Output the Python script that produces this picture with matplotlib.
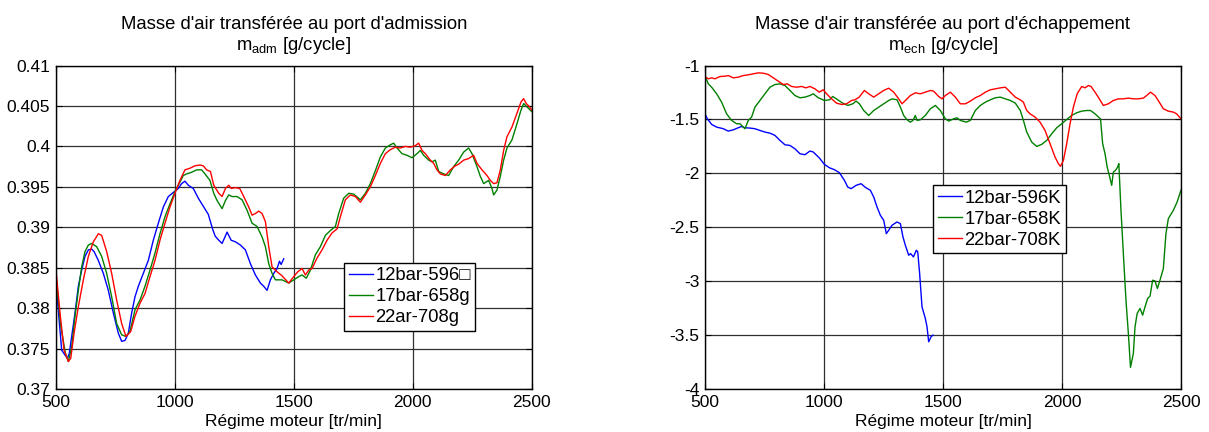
import matplotlib
matplotlib.use("Agg")
import matplotlib.pyplot as plt
from matplotlib.ticker import FuncFormatter

plt.rcParams['font.family'] = ['Liberation Sans', 'DejaVu Sans']
plt.rcParams['mathtext.fontset'] = 'custom'
plt.rcParams['mathtext.rm'] = 'Liberation Sans'
plt.rcParams['axes.unicode_minus'] = False

# --- masse admise, 12 bar ---
rpm_adm_12 = [500, 525, 539, 549, 557, 567, 581, 595, 609, 623,
              637, 651, 661, 679, 700, 721, 742, 763, 777, 791,
              805, 819, 833, 847, 868, 889, 910, 931, 952, 973,
              994, 1015, 1029, 1043, 1057, 1078, 1099, 1120, 1141, 1160,
              1170, 1185, 1199, 1220, 1237, 1255, 1276, 1297, 1318, 1339,
              1360, 1374, 1388, 1402, 1416, 1430, 1440, 1447, 1458]
m_adm_12 = [0.3835, 0.3748, 0.3742, 0.3738, 0.3744, 0.3765, 0.3794, 0.3827, 0.3847, 0.3864,
            0.3872, 0.3873, 0.3870, 0.3859, 0.3843, 0.3822, 0.3794, 0.3769, 0.3759, 0.3760,
            0.3769, 0.3794, 0.3814, 0.3827, 0.3843, 0.3859, 0.3884, 0.3905, 0.3925, 0.3938,
            0.3943, 0.3948, 0.3954, 0.3957, 0.3952, 0.3948, 0.3936, 0.3926, 0.3916, 0.3897,
            0.3889, 0.3884, 0.3880, 0.3894, 0.3884, 0.3882, 0.3878, 0.3872, 0.3855, 0.3841,
            0.3831, 0.3827, 0.3822, 0.3835, 0.3843, 0.3849, 0.3858, 0.3854, 0.3861]

# --- masse admise, 17 bar ---
rpm_adm_17 = [500, 520, 540, 553, 567, 581, 595, 609, 623, 637,
              651, 672, 693, 714, 735, 756, 777, 795, 812, 833,
              854, 875, 896, 917, 938, 959, 980, 1001, 1022, 1036,
              1050, 1071, 1092, 1113, 1127, 1148, 1164, 1178, 1199, 1213,
              1227, 1241, 1262, 1283, 1304, 1325, 1346, 1367, 1381, 1395,
              1409, 1423, 1451, 1479, 1500, 1521, 1535, 1553, 1570, 1591,
              1612, 1633, 1654, 1675, 1689, 1710, 1731, 1752, 1780, 1801,
              1822, 1843, 1864, 1885, 1906, 1920, 1934, 1955, 1976, 1997,
              2018, 2032, 2046, 2067, 2081, 2095, 2109, 2130, 2151, 2172,
              2193, 2214, 2235, 2249, 2270, 2284, 2298, 2319, 2333, 2340,
              2354, 2368, 2382, 2396, 2417, 2438, 2455, 2466, 2480, 2500]
m_adm_17 = [0.3845, 0.3780, 0.3745, 0.3734, 0.3752, 0.3790, 0.3822, 0.3851, 0.3870, 0.3878,
            0.3880, 0.3876, 0.3864, 0.3843, 0.3814, 0.3781, 0.3767, 0.3765, 0.3771, 0.3798,
            0.3810, 0.3827, 0.3847, 0.3868, 0.3892, 0.3913, 0.3929, 0.3944, 0.3956, 0.3964,
            0.3966, 0.3968, 0.3971, 0.3971, 0.3966, 0.3958, 0.3942, 0.3933, 0.3923, 0.3933,
            0.3940, 0.3938, 0.3938, 0.3934, 0.3921, 0.3905, 0.3901, 0.3888, 0.3876, 0.3855,
            0.3843, 0.3835, 0.3835, 0.3831, 0.3835, 0.3839, 0.3841, 0.3837, 0.3847, 0.3866,
            0.3876, 0.3890, 0.3896, 0.3901, 0.3917, 0.3936, 0.3942, 0.3941, 0.3934, 0.3942,
            0.3954, 0.3970, 0.3987, 0.3998, 0.4002, 0.4004, 0.3998, 0.3991, 0.3989, 0.3986,
            0.3991, 0.3995, 0.3989, 0.3983, 0.3981, 0.3983, 0.3969, 0.3966, 0.3964, 0.3975,
            0.3983, 0.3993, 0.3998, 0.3991, 0.3975, 0.3963, 0.3954, 0.3958, 0.3948, 0.3940,
            0.3946, 0.3963, 0.3983, 0.3998, 0.4008, 0.4028, 0.4045, 0.4053, 0.4049, 0.4043]

# --- masse admise, 22 bar ---
rpm_adm_22 = [500, 518, 535, 553, 563, 577, 595, 616, 637, 658,
              679, 693, 714, 735, 756, 777, 795, 815, 833, 854,
              875, 896, 917, 938, 959, 980, 1001, 1022, 1043, 1064,
              1085, 1106, 1120, 1134, 1150, 1164, 1185, 1199, 1213, 1227,
              1237, 1255, 1273, 1290, 1311, 1325, 1339, 1353, 1367, 1381,
              1395, 1409, 1430, 1451, 1479, 1500, 1517, 1535, 1549, 1563,
              1577, 1598, 1619, 1640, 1661, 1682, 1696, 1717, 1738, 1759,
              1780, 1801, 1822, 1843, 1864, 1885, 1906, 1927, 1948, 1969,
              1990, 2011, 2025, 2039, 2053, 2074, 2088, 2102, 2116, 2137,
              2158, 2179, 2193, 2214, 2235, 2256, 2270, 2291, 2312, 2326,
              2340, 2354, 2368, 2382, 2396, 2417, 2438, 2455, 2466, 2477,
              2491, 2500]
m_adm_22 = [0.3850, 0.3794, 0.3748, 0.3734, 0.3738, 0.3769, 0.3802, 0.3835, 0.3864, 0.3882,
            0.3892, 0.3890, 0.3870, 0.3843, 0.3810, 0.3781, 0.3765, 0.3771, 0.3790, 0.3806,
            0.3818, 0.3839, 0.3859, 0.3884, 0.3905, 0.3925, 0.3942, 0.3958, 0.3971, 0.3973,
            0.3976, 0.3977, 0.3976, 0.3971, 0.3969, 0.3952, 0.3942, 0.3938, 0.3948, 0.3952,
            0.3948, 0.3949, 0.3948, 0.3938, 0.3925, 0.3915, 0.3917, 0.3920, 0.3917, 0.3907,
            0.3876, 0.3851, 0.3845, 0.3840, 0.3831, 0.3839, 0.3845, 0.3849, 0.3841, 0.3847,
            0.3849, 0.3862, 0.3872, 0.3884, 0.3893, 0.3898, 0.3913, 0.3934, 0.3940, 0.3938,
            0.3931, 0.3940, 0.3950, 0.3964, 0.3979, 0.3991, 0.3996, 0.3999, 0.3998, 0.4000,
            0.3999, 0.4001, 0.4004, 0.3995, 0.3991, 0.3983, 0.3979, 0.3971, 0.3966, 0.3964,
            0.3971, 0.3976, 0.3978, 0.3983, 0.3985, 0.3989, 0.3979, 0.3971, 0.3964, 0.3958,
            0.3954, 0.3955, 0.3971, 0.3995, 0.4012, 0.4024, 0.4041, 0.4055, 0.4059, 0.4053,
            0.4049, 0.4045]

# --- masse echappement, 12 bar ---
rpm_ech_12 = [500, 510, 528, 549, 566, 577, 598, 619, 640, 654,
              668, 689, 710, 731, 752, 773, 794, 815, 836, 857,
              878, 899, 920, 941, 955, 981, 1002, 1023, 1044, 1065,
              1086, 1100, 1114, 1135, 1156, 1174, 1195, 1209, 1223, 1237,
              1251, 1262, 1272, 1286, 1307, 1321, 1332, 1342, 1356, 1364,
              1376, 1388, 1394, 1402, 1412, 1426, 1433, 1440, 1450, 1458]
m_ech_12 = [-1.448, -1.494, -1.546, -1.571, -1.580, -1.586, -1.608, -1.596, -1.577, -1.565,
            -1.577, -1.580, -1.586, -1.602, -1.617, -1.627, -1.648, -1.694, -1.735, -1.741,
            -1.772, -1.818, -1.827, -1.793, -1.802, -1.858, -1.917, -1.948, -1.966, -1.994,
            -2.065, -2.127, -2.142, -2.111, -2.096, -2.130, -2.157, -2.219, -2.312, -2.389,
            -2.435, -2.559, -2.528, -2.481, -2.451, -2.466, -2.590, -2.667, -2.759, -2.744,
            -2.775, -2.713, -2.728, -2.929, -3.238, -3.346, -3.423, -3.562, -3.515, -3.500]

# --- masse echappement, 17 bar ---
rpm_ech_17 = [500, 514, 528, 549, 570, 591, 612, 633, 647, 661,
              668, 682, 696, 710, 731, 752, 773, 794, 815, 836,
              857, 878, 899, 920, 941, 955, 976, 1002, 1023, 1037,
              1058, 1079, 1100, 1121, 1135, 1149, 1167, 1188, 1209, 1230,
              1251, 1272, 1286, 1307, 1321, 1335, 1349, 1363, 1374, 1384,
              1391, 1405, 1426, 1447, 1468, 1489, 1510, 1524, 1545, 1559,
              1573, 1598, 1615, 1636, 1657, 1678, 1699, 1720, 1741, 1762,
              1783, 1804, 1825, 1838, 1852, 1873, 1894, 1915, 1936, 1957,
              1978, 1999, 2020, 2041, 2062, 2083, 2104, 2120, 2139, 2157,
              2162, 2171, 2181, 2190, 2199, 2209, 2216, 2225, 2234, 2239,
              2248, 2258, 2269, 2279, 2288, 2300, 2307, 2316, 2328, 2339,
              2349, 2360, 2370, 2381, 2391, 2401, 2412, 2426, 2437, 2447,
              2468, 2484, 2500]
m_ech_17 = [-1.093, -1.170, -1.201, -1.262, -1.340, -1.448, -1.509, -1.540, -1.540, -1.571,
            -1.586, -1.509, -1.478, -1.386, -1.324, -1.262, -1.201, -1.176, -1.170, -1.185,
            -1.231, -1.278, -1.299, -1.293, -1.278, -1.262, -1.299, -1.324, -1.318, -1.287,
            -1.318, -1.349, -1.370, -1.355, -1.330, -1.355, -1.417, -1.463, -1.417, -1.386,
            -1.355, -1.324, -1.309, -1.318, -1.386, -1.463, -1.503, -1.525, -1.509, -1.463,
            -1.509, -1.503, -1.463, -1.401, -1.370, -1.417, -1.494, -1.515, -1.494, -1.485,
            -1.509, -1.525, -1.509, -1.417, -1.370, -1.340, -1.318, -1.299, -1.293, -1.309,
            -1.324, -1.349, -1.417, -1.509, -1.617, -1.710, -1.750, -1.731, -1.694, -1.633,
            -1.577, -1.540, -1.500, -1.463, -1.438, -1.423, -1.417, -1.417, -1.448, -1.485,
            -1.494, -1.725, -1.818, -1.941, -2.019, -2.111, -1.988, -1.972, -1.941, -1.910,
            -2.343, -2.744, -3.176, -3.485, -3.799, -3.670, -3.423, -3.299, -3.253, -3.315,
            -3.238, -3.160, -3.139, -2.991, -2.997, -3.068, -2.991, -2.883, -2.559, -2.420,
            -2.343, -2.265, -2.157]

# --- masse echappement, 22 bar ---
rpm_ech_22 = [500, 514, 528, 542, 563, 584, 598, 619, 640, 661,
              682, 703, 724, 745, 766, 787, 808, 829, 846, 864,
              885, 906, 924, 941, 962, 980, 997, 1011, 1032, 1053,
              1074, 1095, 1116, 1130, 1148, 1170, 1188, 1209, 1230, 1251,
              1272, 1293, 1314, 1328, 1342, 1363, 1384, 1405, 1426, 1447,
              1461, 1482, 1496, 1510, 1531, 1552, 1573, 1594, 1615, 1636,
              1657, 1678, 1699, 1720, 1741, 1762, 1783, 1804, 1825, 1838,
              1852, 1866, 1887, 1908, 1929, 1950, 1971, 1985, 1994, 2006,
              2020, 2034, 2048, 2064, 2083, 2097, 2111, 2122, 2139, 2157,
              2174, 2195, 2216, 2237, 2258, 2279, 2300, 2321, 2342, 2356,
              2372, 2391, 2409, 2426, 2447, 2468, 2482, 2500]
m_ech_22 = [-1.102, -1.123, -1.114, -1.123, -1.102, -1.099, -1.093, -1.114, -1.108, -1.093,
            -1.086, -1.077, -1.068, -1.071, -1.083, -1.114, -1.145, -1.176, -1.170, -1.194,
            -1.201, -1.194, -1.207, -1.194, -1.216, -1.247, -1.225, -1.262, -1.309, -1.349,
            -1.361, -1.355, -1.324, -1.318, -1.293, -1.231, -1.262, -1.293, -1.262, -1.231,
            -1.210, -1.247, -1.309, -1.355, -1.324, -1.278, -1.253, -1.262, -1.247, -1.231,
            -1.238, -1.287, -1.309, -1.278, -1.247, -1.293, -1.355, -1.355, -1.330, -1.299,
            -1.278, -1.247, -1.225, -1.216, -1.207, -1.201, -1.247, -1.293, -1.318, -1.340,
            -1.417, -1.448, -1.478, -1.525, -1.602, -1.725, -1.849, -1.910, -1.935, -1.880,
            -1.725, -1.540, -1.386, -1.262, -1.194, -1.207, -1.185, -1.194, -1.247, -1.309,
            -1.370, -1.355, -1.324, -1.309, -1.309, -1.302, -1.309, -1.309, -1.302, -1.278,
            -1.247, -1.278, -1.340, -1.401, -1.423, -1.432, -1.448, -1.494]

labels_adm = ["12bar-596\u25a1", "17bar-658g", "22ar-708g"]
labels_ech = ["12bar-596K", "17bar-658K", "22bar-708K"]
colors = ["#0000ff", "#008000", "#ff0000"]
fs = 12.5
fs_big = 13.3

fig = plt.figure(figsize=(12.09, 4.32), dpi=100)
ax1 = fig.add_axes([0.0461, 0.0995, 0.3937, 0.7488])
ax2 = fig.add_axes([0.5831, 0.0995, 0.3937, 0.7488])


def style_axes(ax, ylim, yticks, title):
    ax.set_xlim(500, 2500)
    ax.set_ylim(*ylim)
    ax.set_xticks([500, 1000, 1500, 2000, 2500])
    ax.set_yticks(yticks)
    ax.yaxis.set_major_formatter(FuncFormatter(lambda v, p: "%g" % round(v, 4)))
    ax.grid(True, color="#303030", linewidth=0.9)
    ax.set_axisbelow(True)
    ax.tick_params(direction="in", top=True, right=True, labelsize=fs, length=4, pad=4)
    for s in ax.spines.values():
        s.set_linewidth(1.0)
        s.set_color("k")
    ax.set_title(title, fontsize=fs_big, pad=11, linespacing=1.12)
    ax.set_xlabel("Régime moteur [tr/min]", fontsize=fs, labelpad=3)


series_adm = [(rpm_adm_12, m_adm_12), (rpm_adm_17, m_adm_17), (rpm_adm_22, m_adm_22)]
for (x, y), c, lab in zip(series_adm, colors, labels_adm):
    ax1.plot(x, y, color=c, linewidth=1.0, label=lab)
style_axes(ax1, (0.37, 0.41), [0.37, 0.375, 0.38, 0.385, 0.39, 0.395, 0.4, 0.405, 0.41],
           "Masse d'air transférée au port d'admission\nm$_{\\rm adm}$ [g/cycle]")

series_ech = [(rpm_ech_12, m_ech_12), (rpm_ech_17, m_ech_17), (rpm_ech_22, m_ech_22)]
for (x, y), c, lab in zip(series_ech, colors, labels_ech):
    ax2.plot(x, y, color=c, linewidth=1.0, label=lab)
style_axes(ax2, (-4, -1), [-4, -3.5, -3, -2.5, -2, -1.5, -1],
           "Masse d'air transférée au port d'échappement\nm$_{\\rm ech}$ [g/cycle]")

leg_kw = dict(loc="upper left", bbox_transform=fig.transFigure, borderaxespad=0,
              fancybox=False, edgecolor="k", framealpha=1, fontsize=fs_big,
              handlelength=1.3, handletextpad=0.15, borderpad=0.25, labelspacing=0.22)
l1 = ax1.legend(bbox_to_anchor=(0.2845, 0.392), **leg_kw)
l2 = ax2.legend(bbox_to_anchor=(0.7717, 0.572), **leg_kw)
for lg in (l1, l2):
    lg.get_frame().set_linewidth(1.0)

fig.savefig("out.png", dpi=100)
